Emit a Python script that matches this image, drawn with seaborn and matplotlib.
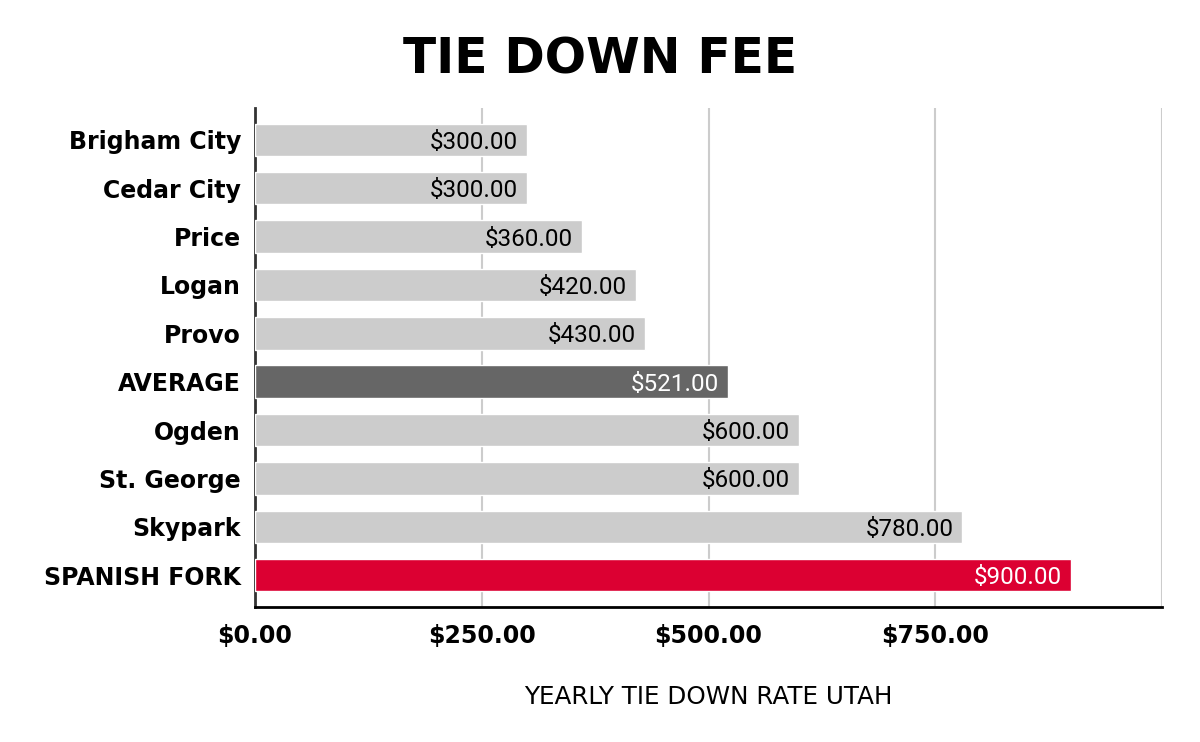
import matplotlib
matplotlib.use("Agg")
import matplotlib.pyplot as plt
import seaborn as sns

# data
airports = ['Brigham City', 'Cedar City', 'Price', 'Logan', 'Provo',
            'AVERAGE', 'Ogden', 'St. George', 'Skypark', 'SPANISH FORK']
fees = [300, 300, 360, 420, 430, 521, 600, 600, 780, 900]
bar_colors = ['#cccccc', '#cccccc', '#cccccc', '#cccccc', '#cccccc',
              '#666666', '#cccccc', '#cccccc', '#cccccc', '#dc0032']
label_colors = ['black', 'black', 'black', 'black', 'black',
                'white', 'black', 'black', 'black', 'white']
xticks = [0, 250, 500, 750, 1000]
xtick_labels = ['$0.00', '$250.00', '$500.00', '$750.00', '']

sns.set_style("white", {"text.color": "black", "axes.labelcolor": "black",
                        "xtick.color": "black", "ytick.color": "black"})
plt.rcParams['font.family'] = ['DejaVu Sans']

fig, ax = plt.subplots(figsize=(12, 7.42), dpi=100)
fig.subplots_adjust(left=255/1200, right=1162/1200, top=1-108/742, bottom=1-607/742)

sns.barplot(x=fees, y=airports, hue=airports, palette=bar_colors, saturation=1,
            legend=False, orient='h', width=0.67, ax=ax, zorder=3)

# value labels inside bar ends
for i, cont in enumerate(ax.containers):
    texts = ax.bar_label(cont, labels=['${:,.2f}'.format(fees[i])], padding=-6.5,
                         fontsize=17.5, family='Roboto', color=label_colors[i])
    for t in texts:
        t.set_ha('right')
        t.set_va('center_baseline')

ax.set_xlim(0, 1000)
ax.set_ylim(9.66, -0.66)
ax.set_xticks(xticks)
ax.set_xticklabels(xtick_labels, fontsize=17, fontweight='bold')
ax.tick_params(axis='x', length=0, pad=12)
ax.tick_params(axis='y', length=0, pad=10, labelsize=17)
for lab in ax.get_yticklabels():
    lab.set_fontweight('bold')

ax.set_axisbelow(True)
ax.grid(axis='x', color='#cccccc', linewidth=1.5)
ax.grid(axis='y', visible=False)

for s in ['top', 'right']:
    ax.spines[s].set_visible(False)
ax.spines['left'].set_color('#333333')
ax.spines['left'].set_linewidth(2)
ax.spines['left'].set_zorder(1)
ax.spines['bottom'].set_color('black')
ax.spines['bottom'].set_linewidth(2)

ax.set_ylabel('')
ax.set_xlabel('YEARLY TIE DOWN RATE UTAH', fontsize=17.7, labelpad=27)

fig.text(0.5, 1 - 60/742, 'TIE DOWN FEE', ha='center', va='center',
         fontsize=35, fontweight='bold', color='black')

plt.savefig('out.png', dpi=100)
plt.close()
